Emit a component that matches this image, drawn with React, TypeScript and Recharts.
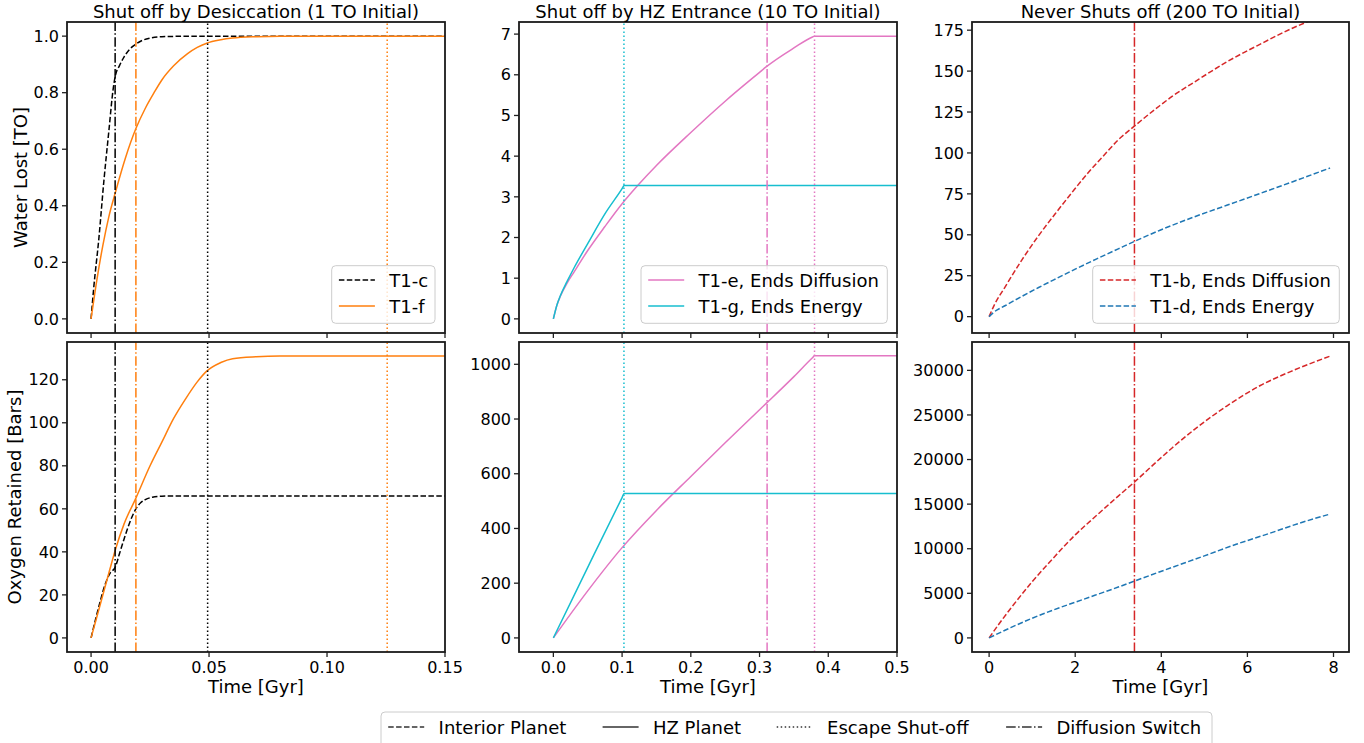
import React from 'react';
import { LineChart, Line, XAxis, YAxis, ReferenceLine } from 'recharts';

const FONT = '"DejaVu Sans", Verdana, sans-serif';

// ---------- colours / styles ----------
const BLACK = '#000000';
const ORANGE = '#ff7f0e';
const PINK = '#e377c2';
const CYAN = '#17becf';
const RED = '#d62728';
const BLUE = '#1f77b4';
const DASHED = '5.5 2.4';
const DOTTED = '1.5 2.5';
const DASHDOT = '9.6 2.4 1.5 2.4';

// ---------- Panel A: Shut off by Desiccation (1 TO Initial) ----------
const t1cWaterTime = [0, 0.0011, 0.0033, 0.0054, 0.0075, 0.0094, 0.0103, 0.012, 0.014, 0.0165, 0.019, 0.022, 0.025, 0.03, 0.035, 0.04, 0.15];
const t1cWater = [0, 0.107, 0.284, 0.485, 0.661, 0.815, 0.86, 0.895, 0.927, 0.955, 0.972, 0.986, 0.993, 0.998, 0.999, 1.0, 1.0];
const t1fWaterTime = [0, 0.0025, 0.005, 0.0075, 0.0103, 0.0146, 0.019, 0.023, 0.0267, 0.03, 0.035, 0.0409, 0.045, 0.049, 0.055, 0.06, 0.07, 0.08, 0.1, 0.15];
const t1fWater = [0, 0.14, 0.26, 0.36, 0.447, 0.57, 0.673, 0.745, 0.8, 0.845, 0.895, 0.938, 0.96, 0.975, 0.987, 0.993, 0.998, 1.0, 1.0, 1.0];
const t1cOxyTime = [0, 0.002, 0.004, 0.006, 0.008, 0.0103, 0.012, 0.014, 0.016, 0.019, 0.021, 0.023, 0.026, 0.03, 0.04, 0.15];
const t1cOxy = [0, 9, 17.5, 25, 30, 33, 39, 46, 52.5, 60, 62.8, 64.3, 65.4, 65.9, 66, 66];
const t1fOxyTime = [0, 0.002, 0.004, 0.006, 0.008, 0.0103, 0.014, 0.019, 0.025, 0.03, 0.035, 0.04, 0.045, 0.049, 0.055, 0.06, 0.07, 0.08, 0.15];
const t1fOxy = [0, 8, 16, 24, 32, 41, 53, 65, 80, 91, 102, 111, 119, 124, 128, 129.8, 130.7, 131, 131];
const aDiffusionSwitch = [0.0102, 0.019]; // T1-c, T1-f
const aEscapeShutoff = [0.0494, 0.1255]; // T1-c, T1-f

// ---------- Panel B: Shut off by HZ Entrance (10 TO Initial) ----------
const t1eWaterTime = [0, 0.005, 0.01, 0.02, 0.03, 0.05, 0.075, 0.1, 0.125, 0.15, 0.2, 0.25, 0.3, 0.31, 0.35, 0.377, 0.38, 0.5];
const t1eWater = [0, 0.33, 0.55, 0.88, 1.15, 1.68, 2.27, 2.83, 3.32, 3.77, 4.58, 5.35, 6.06, 6.2, 6.66, 6.93, 6.95, 6.95];
const t1gWaterTime = [0, 0.005, 0.01, 0.02, 0.03, 0.05, 0.075, 0.1, 0.103, 0.5];
const t1gWater = [0, 0.33, 0.56, 0.92, 1.25, 1.85, 2.58, 3.2, 3.28, 3.28];
const t1eOxyTime = [0, 0.05, 0.1, 0.15, 0.2, 0.25, 0.3, 0.31, 0.35, 0.377, 0.38, 0.5];
const t1eOxy = [0, 172, 330, 466, 590, 713, 834, 858, 955, 1024, 1031, 1031];
const t1gOxyTime = [0, 0.05, 0.1, 0.103, 0.5];
const t1gOxy = [0, 258, 513, 528, 528];
const bDiffusionSwitch = [0.311]; // T1-e
const bEscapeShutoff = [0.1027, 0.38]; // T1-g, T1-e

// ---------- Panel C: Never Shuts off (200 TO Initial) ----------
const t1bWaterTime = [0, 0.1, 0.38, 0.77, 1.15, 1.54, 1.93, 2.32, 2.7, 3.0, 3.38, 3.97, 4.25, 4.75, 5.52, 6.3, 7.07, 7.38, 7.93];
const t1bWater = [0, 6, 18.5, 35, 49.5, 63, 76, 88.5, 99.5, 108, 116.5, 129, 134.5, 143, 155.6, 166.5, 176.5, 180, 186];
const t1dWaterTime = [0, 0.1, 0.38, 0.77, 1.15, 1.54, 2, 2.5, 3, 3.38, 3.97, 4.75, 5.52, 6.3, 7.07, 7.92];
const t1dWater = [0, 2.5, 6.8, 12.5, 17.8, 23, 29, 35.3, 41.4, 46, 52.8, 60.8, 68, 75.3, 82.6, 90.8];
const t1bOxyTime = [0, 0.25, 0.5, 1, 1.5, 2, 2.5, 3, 3.38, 3.97, 4.25, 4.75, 5.52, 6.3, 7.07, 7.95];
const t1bOxy = [0, 1700, 3300, 6300, 9000, 11550, 13750, 15900, 17500, 20100, 21300, 23300, 26000, 28300, 30000, 31650];
const t1dOxyTime = [0, 0.5, 1, 1.5, 2, 2.5, 3, 3.38, 3.97, 5, 5.74, 6.5, 7.2, 7.93];
const t1dOxy = [0, 1150, 2200, 3150, 4000, 4850, 5700, 6380, 7420, 9200, 10500, 11700, 12850, 13900];
const cDiffusionSwitch = [3.376]; // T1-b

// ---------- axes ----------
const xTicksA = [0, 0.05, 0.1, 0.15];
const xTicksB = [0, 0.1, 0.2, 0.3, 0.4, 0.5];
const xTicksC = [0, 2, 4, 6, 8];
const yTicksWaterA = [0, 0.2, 0.4, 0.6, 0.8, 1.0];
const yTicksOxyA = [0, 20, 40, 60, 80, 100, 120];
const yTicksWaterB = [0, 1, 2, 3, 4, 5, 6, 7];
const yTicksOxyB = [0, 200, 400, 600, 800, 1000];
const yTicksWaterC = [0, 25, 50, 75, 100, 125, 150, 175];
const yTicksOxyC = [0, 5000, 10000, 15000, 20000, 25000, 30000];

const titles = ['Shut off by Desiccation (1 TO Initial)', 'Shut off by HZ Entrance (10 TO Initial)', 'Never Shuts off (200 TO Initial)'];

type Row = { t: number; v: number };
const zip = (t: number[], v: number[]): Row[] => t.map((x, i) => ({ t: x, v: v[i] }));

type Series = { name: string; data: Row[]; color: string; dash?: string };
type VLine = { x: number; color: string; dash: string };
type Rect = { x: number; y: number; w: number; h: number };

const R = {
  tl: { x: 67, y: 22, w: 378, h: 311 },
  tm: { x: 519, y: 22, w: 378, h: 311 },
  tr: { x: 972, y: 22, w: 377, h: 311 },
  bl: { x: 67, y: 342, w: 378, h: 310 },
  bm: { x: 519, y: 342, w: 378, h: 310 },
  br: { x: 972, y: 342, w: 377, h: 310 },
};

const seriesAWater: Series[] = [
  { name: 'T1-c', data: zip(t1cWaterTime, t1cWater), color: BLACK, dash: DASHED },
  { name: 'T1-f', data: zip(t1fWaterTime, t1fWater), color: ORANGE },
];
const seriesAOxy: Series[] = [
  { name: 'T1-c', data: zip(t1cOxyTime, t1cOxy), color: BLACK, dash: DASHED },
  { name: 'T1-f', data: zip(t1fOxyTime, t1fOxy), color: ORANGE },
];
const seriesBWater: Series[] = [
  { name: 'T1-e, Ends Diffusion', data: zip(t1eWaterTime, t1eWater), color: PINK },
  { name: 'T1-g, Ends Energy', data: zip(t1gWaterTime, t1gWater), color: CYAN },
];
const seriesBOxy: Series[] = [
  { name: 'T1-e, Ends Diffusion', data: zip(t1eOxyTime, t1eOxy), color: PINK },
  { name: 'T1-g, Ends Energy', data: zip(t1gOxyTime, t1gOxy), color: CYAN },
];
const seriesCWater: Series[] = [
  { name: 'T1-b, Ends Diffusion', data: zip(t1bWaterTime, t1bWater), color: RED, dash: DASHED },
  { name: 'T1-d, Ends Energy', data: zip(t1dWaterTime, t1dWater), color: BLUE, dash: DASHED },
];
const seriesCOxy: Series[] = [
  { name: 'T1-b, Ends Diffusion', data: zip(t1bOxyTime, t1bOxy), color: RED, dash: DASHED },
  { name: 'T1-d, Ends Energy', data: zip(t1dOxyTime, t1dOxy), color: BLUE, dash: DASHED },
];

const vlinesA: VLine[] = [
  { x: aDiffusionSwitch[0], color: BLACK, dash: DASHDOT },
  { x: aDiffusionSwitch[1], color: ORANGE, dash: DASHDOT },
  { x: aEscapeShutoff[0], color: BLACK, dash: DOTTED },
  { x: aEscapeShutoff[1], color: ORANGE, dash: DOTTED },
];
const vlinesB: VLine[] = [
  { x: bEscapeShutoff[0], color: CYAN, dash: DOTTED },
  { x: bDiffusionSwitch[0], color: PINK, dash: DASHDOT },
  { x: bEscapeShutoff[1], color: PINK, dash: DOTTED },
];
const vlinesC: VLine[] = [{ x: cDiffusionSwitch[0], color: RED, dash: DASHDOT }];

const tickStyle = { fontSize: 16, fill: '#000', fontFamily: FONT };
const tickLineStyle = { stroke: '#222', strokeWidth: 1.3 };

type PanelProps = {
  rect: Rect;
  xDomain: [number, number];
  xTicks: number[];
  xFmt: (v: number) => string;
  showX: boolean;
  yDomain: [number, number];
  yTicks: number[];
  yFmt: (v: number) => string;
  series: Series[];
  vlines: VLine[];
};

function Panel(p: PanelProps) {
  const ML = 72, MT = 10, MR = 24, XH = 40;
  const W = p.rect.w + ML + MR;
  const H = p.rect.h + MT + XH;
  return (
    <div style={{ position: 'absolute', left: p.rect.x - ML, top: p.rect.y - MT }}>
      <LineChart width={W} height={H} margin={{ top: MT, right: MR, bottom: 0, left: 0 }}>
        <XAxis
          type="number"
          dataKey="t"
          domain={p.xDomain}
          ticks={p.xTicks}
          allowDataOverflow
          interval={0}
          height={XH}
          axisLine={false}
          tickLine={tickLineStyle}
          tickSize={5}
          tickMargin={5}
          tick={tickStyle}
          tickFormatter={p.showX ? p.xFmt : () => ''}
        />
        <YAxis
          type="number"
          domain={p.yDomain}
          ticks={p.yTicks}
          allowDataOverflow
          interval={0}
          width={ML}
          axisLine={false}
          tickLine={tickLineStyle}
          tickSize={5}
          tickMargin={3}
          tick={tickStyle}
          tickFormatter={p.yFmt}
        />
        {p.series.map((s) => (
          <Line
            key={s.name}
            name={s.name}
            data={s.data}
            dataKey="v"
            type="monotone"
            stroke={s.color}
            strokeWidth={1.5}
            strokeDasharray={s.dash}
            dot={false}
            activeDot={false}
            isAnimationActive={false}
          />
        ))}
        {p.vlines.map((l, i) => (
          <ReferenceLine key={i} x={l.x} stroke={l.color} strokeWidth={1.5} strokeDasharray={l.dash} />
        ))}
      </LineChart>
    </div>
  );
}

function PanelLegend({ x, w, series }: { x: number; w: number; series: Series[] }) {
  const y0 = 265.7;
  const rows = [280, 306];
  return (
    <g>
      <rect x={x} y={y0} width={w} height={57.6} rx={4} fill="#ffffff" fillOpacity={0.8} stroke="#cccccc" strokeWidth={1} />
      {series.map((s, i) => (
        <g key={s.name}>
          <line x1={x + 7.2} x2={x + 43.2} y1={rows[i]} y2={rows[i]} stroke={s.color} strokeWidth={1.5} strokeDasharray={s.dash} />
          <text x={x + 57.6} y={rows[i] + 6.5} fontSize={18} fontFamily={FONT} fill="#000">
            {s.name}
          </text>
        </g>
      ))}
    </g>
  );
}

const bottomLegend = [
  { label: 'Interior Planet', dash: DASHED, x: 388.2 },
  { label: 'HZ Planet', dash: undefined as string | undefined, x: 602.6 },
  { label: 'Escape Shut-off', dash: DOTTED, x: 776.7 },
  { label: 'Diffusion Switch', dash: DASHDOT, x: 1006.1 },
];

export default function App() {
  const f2 = (v: number) => v.toFixed(2);
  const f1 = (v: number) => v.toFixed(1);
  const f0 = (v: number) => String(Math.round(v));
  const xA: [number, number] = [-0.0102, 0.15];
  const xB: [number, number] = [-0.05, 0.5];
  const xC: [number, number] = [-0.3975, 8.36];
  return (
    <div style={{ position: 'absolute', left: 0, top: 0, width: 1364, height: 743, background: '#fff', overflow: 'hidden' }}>
      <Panel rect={R.tl} xDomain={xA} xTicks={xTicksA} xFmt={f2} showX={false} yDomain={[-0.05, 1.05]} yTicks={yTicksWaterA} yFmt={f1} series={seriesAWater} vlines={vlinesA} />
      <Panel rect={R.bl} xDomain={xA} xTicks={xTicksA} xFmt={f2} showX={true} yDomain={[-6.55, 137.55]} yTicks={yTicksOxyA} yFmt={f0} series={seriesAOxy} vlines={vlinesA} />
      <Panel rect={R.tm} xDomain={xB} xTicks={xTicksB} xFmt={f1} showX={false} yDomain={[-0.3475, 7.2975]} yTicks={yTicksWaterB} yFmt={f0} series={seriesBWater} vlines={vlinesB} />
      <Panel rect={R.bm} xDomain={xB} xTicks={xTicksB} xFmt={f1} showX={true} yDomain={[-51.5, 1081.5]} yTicks={yTicksOxyB} yFmt={f0} series={seriesBOxy} vlines={vlinesB} />
      <Panel rect={R.tr} xDomain={xC} xTicks={xTicksC} xFmt={f0} showX={false} yDomain={[-10, 180]} yTicks={yTicksWaterC} yFmt={f0} series={seriesCWater} vlines={vlinesC} />
      <Panel rect={R.br} xDomain={xC} xTicks={xTicksC} xFmt={f0} showX={true} yDomain={[-1580, 33180]} yTicks={yTicksOxyC} yFmt={f0} series={seriesCOxy} vlines={vlinesC} />
      <svg width={1364} height={743} style={{ position: 'absolute', left: 0, top: 0, pointerEvents: 'none' }}>
        {Object.values(R).map((r, i) => (
          <rect key={i} x={r.x} y={r.y} width={r.w} height={r.h} fill="none" stroke="#1a1a1a" strokeWidth={1.8} />
        ))}
        {[R.tl, R.tm, R.tr].map((r, i) => (
          <text key={i} x={r.x + r.w / 2} y={17.5} textAnchor="middle" fontSize={18} fontFamily={FONT} fill="#000">
            {titles[i]}
          </text>
        ))}
        <text transform="translate(26.5,177.5) rotate(-90)" textAnchor="middle" fontSize={18} fontFamily={FONT} fill="#000">
          Water Lost [TO]
        </text>
        <text transform="translate(20.5,497) rotate(-90)" textAnchor="middle" fontSize={18} fontFamily={FONT} fill="#000">
          Oxygen Retained [Bars]
        </text>
        {[R.bl, R.bm, R.br].map((r, i) => (
          <text key={i} x={r.x + r.w / 2} y={693} textAnchor="middle" fontSize={18} fontFamily={FONT} fill="#000">
            Time [Gyr]
          </text>
        ))}
        <PanelLegend x={331.7} w={103.3} series={seriesAWater} />
        <PanelLegend x={641} w={246.3} series={seriesBWater} />
        <PanelLegend x={1092.7} w={246.6} series={seriesCWater} />
        <rect x={381} y={712} width={831} height={44} rx={4} fill="#ffffff" fillOpacity={0.8} stroke="#cccccc" strokeWidth={1} />
        {bottomLegend.map((b) => (
          <g key={b.label}>
            <line x1={b.x} x2={b.x + 36} y1={727} y2={727} stroke="#333" strokeWidth={1.5} strokeDasharray={b.dash} />
            <text x={b.x + 50.4} y={733.5} fontSize={18} fontFamily={FONT} fill="#000">
              {b.label}
            </text>
          </g>
        ))}
      </svg>
    </div>
  );
}
